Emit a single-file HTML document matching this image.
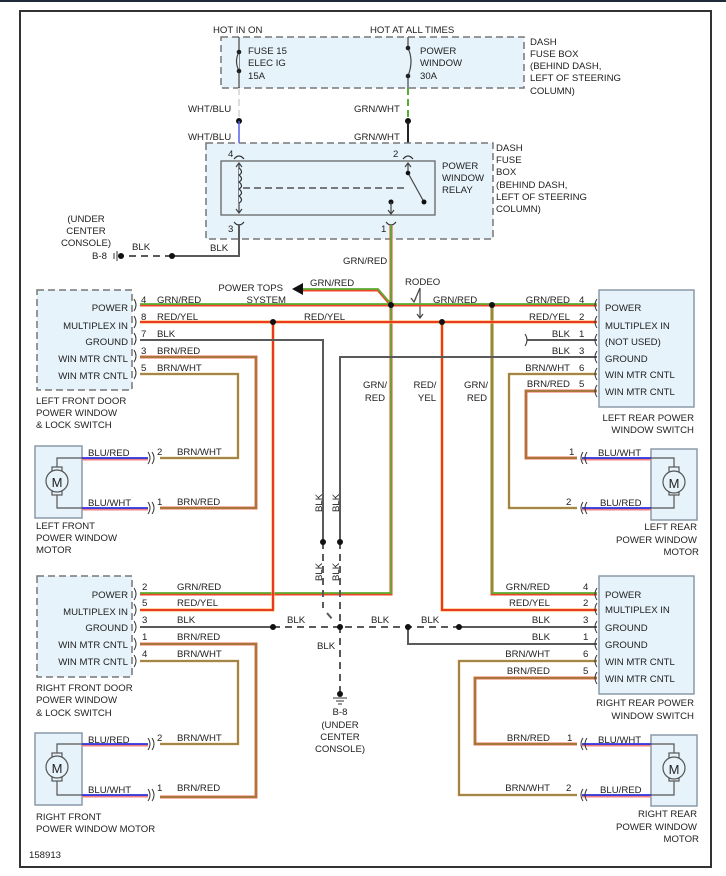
<!DOCTYPE html>
<html><head><meta charset="utf-8"><style>
body{margin:0;background:#fff}
svg{display:block}
text{font-family:"Liberation Sans",sans-serif;font-size:9.6px;fill:#222}
.g{stroke:#5aad32;stroke-width:1.8;fill:none}
.r{stroke:#f0442a;stroke-width:3;fill:none}
.ry{stroke:#f7b04a;stroke-width:3;fill:none}
.rr{stroke:#ec2a1e;stroke-width:1.8;fill:none}
.k{stroke:#5a5a5a;stroke-width:2;fill:none}
.kd{stroke:#5a5a5a;stroke-width:2;fill:none;stroke-dasharray:7,5}
.bw{stroke:#9a7a3a;stroke-width:1.8;fill:none}
.bwl{stroke:#e8d9b0;stroke-width:3;fill:none}
.br{stroke:#f06a50;stroke-width:3;fill:none}
.bl{stroke:#2a33e0;stroke-width:1.8;fill:none}
.blr{stroke:#f08080;stroke-width:3;fill:none}
.thin{stroke:#444;stroke-width:1.2;fill:none}
.box{fill:#e6f3fb;stroke:#777;stroke-width:1.5;stroke-dasharray:7,4}
.sbox{fill:#e6f3fb;stroke:#8a9aa8;stroke-width:1.5}
.e{text-anchor:end}.m{text-anchor:middle}
</style></head><body>
<svg width="726" height="876" viewBox="0 0 726 876" xmlns="http://www.w3.org/2000/svg">
<rect x="0" y="0" width="726" height="2" fill="#1e2a3a"/>
<rect x="20" y="11" width="691" height="856" fill="#fff" stroke="#333" stroke-width="2"/>

<!-- fuse box -->
<rect class="box" x="221" y="37" width="303" height="51"/>
<text x="213" y="33">HOT IN ON</text><text x="370" y="33">HOT AT ALL TIMES</text>
<line class="thin" x1="239" y1="37" x2="239" y2="88"/>
<path d="M239 52 q-5 9 0 19" stroke="#444" fill="#e6f3fb" stroke-width="1.2"/>
<circle cx="239" cy="52" r="2.3" fill="#222"/><circle cx="239" cy="71" r="2.3" fill="#222"/>
<line class="thin" x1="408" y1="37" x2="408" y2="88"/>
<path d="M408 48 q6 13 0 28" stroke="#444" fill="#e6f3fb" stroke-width="1.2"/>
<rect x="405" y="50" width="3" height="24" fill="#e6f3fb"/>
<circle cx="408" cy="48" r="2.3" fill="#222"/><circle cx="408" cy="76" r="2.3" fill="#222"/>
<text x="248" y="54">FUSE 15</text><text x="248" y="66">ELEC IG</text><text x="248" y="79">15A</text>
<text x="420" y="54">POWER</text><text x="420" y="66">WINDOW</text><text x="420" y="79">30A</text>
<text x="530" y="45">DASH</text><text x="530" y="57">FUSE BOX</text><text x="530" y="69">(BEHIND DASH,</text><text x="530" y="81">LEFT OF STEERING</text><text x="530" y="94">COLUMN)</text>

<line x1="239" y1="88" x2="239" y2="121" stroke="#ddd" stroke-width="2" stroke-dasharray="7,4"/>
<line x1="408" y1="88" x2="408" y2="121" stroke="#5aad32" stroke-width="2" stroke-dasharray="7,4"/>
<circle cx="239" cy="121" r="3" fill="#111"/><circle cx="408" cy="121" r="3" fill="#111"/>
<text x="188" y="112">WHT/BLU</text><text x="354" y="112">GRN/WHT</text>
<text x="188" y="140">WHT/BLU</text><text x="354" y="140">GRN/WHT</text>
<line x1="239" y1="121" x2="239" y2="155" stroke="#5560e8" stroke-width="1.5"/>
<line x1="408" y1="121" x2="408" y2="155" stroke="#222" stroke-width="2"/>

<!-- relay -->
<rect class="box" x="206" y="143" width="287" height="96"/>
<rect x="221" y="161" width="214" height="54" fill="#e6f3fb" stroke="#666" stroke-width="1.3"/>
<path d="M234 159 q5 -6 10 0 M403 159 q5 -6 10 0 M234 222 q5 6 10 0 M386 222 q5 6 10 0" stroke="#333" fill="none" stroke-width="1.2"/>
<path d="M239 163 v50 M236 167 l3 -4 3 4 M236 209 l3 4 3 -4" class="thin"/>
<path d="M239 168 q5 4 0 7 q5 4 0 7 q5 4 0 7 q5 4 0 7 q5 4 0 7" stroke="#333" fill="#e6f3fb" stroke-width="1.2"/>
<line x1="243" y1="188" x2="408" y2="188" stroke="#333" stroke-width="1.3" stroke-dasharray="7,4"/>
<path d="M408 163 v10 M405 167 l3 -4 3 4 M408 173 L424 202" class="thin"/>
<circle cx="408" cy="173" r="2.3" fill="#111"/><circle cx="424" cy="202" r="2.5" fill="#111"/>
<circle cx="391" cy="202" r="2.5" fill="#111"/>
<path d="M391 202 v12 M388 210 l3 4 3 -4" class="thin"/>
<text x="228" y="157" fill="#553">4</text><text x="393" y="157">2</text>
<text x="228" y="232">3</text><text x="381" y="232">1</text>
<text x="442" y="169">POWER</text><text x="442" y="181">WINDOW</text><text x="442" y="193">RELAY</text>
<text x="496" y="151">DASH</text><text x="496" y="163">FUSE</text><text x="496" y="175">BOX</text><text x="496" y="188">(BEHIND DASH,</text><text x="496" y="200">LEFT OF STEERING</text><text x="496" y="212">COLUMN)</text>

<!-- relay ground -->
<path class="k" d="M239 224 V256 H172"/>
<line class="kd" x1="172" y1="256" x2="122" y2="256"/>
<circle cx="172" cy="256" r="3" fill="#111"/><circle cx="121" cy="256" r="3" fill="#111"/>
<path d="M117 251 v10 M114 253 v6" stroke="#333" stroke-width="1"/>
<text x="86" y="222" class="m">(UNDER</text><text x="86" y="234" class="m">CENTER</text><text x="86" y="246" class="m">CONSOLE)</text>
<text x="92" y="259">B-8</text><text x="132" y="250">BLK</text><text x="210" y="251">BLK</text>
<text x="343" y="264">GRN/RED</text>

<!-- power tops -->
<path class="r" d="M303 290 H378 L391 305"/><path class="g" d="M303 289 H378 L390 303"/>
<path d="M292 289 l11 -6 v12 z" fill="#111"/>
<text x="283" y="291" class="e">POWER TOPS</text><text x="286" y="303" class="e">SYSTEM</text>
<text x="310" y="286">GRN/RED</text>
<text x="405" y="285">RODEO</text>
<path d="M420 288 L414 302 M411 298 l3 4 2 -4 M420 288 V318 M417 314 l3 4 3 -4" class="thin"/>

<!-- main green/red power -->
<path class="r" d="M140 305 H597"/><path class="g" d="M140 304 H597"/>
<path class="r" d="M391 225 V594 H140"/><path class="g" d="M391 225 V593 H140"/>
<path class="r" d="M492 305 V594 H597"/><path class="g" d="M492 305 V593 H597"/>
<circle cx="391" cy="305" r="3" fill="#111"/><circle cx="492" cy="305" r="3" fill="#111"/>
<!-- red/yel -->
<path class="ry" d="M140 322 H597"/><path class="rr" d="M140 322 H597"/>
<path class="ry" d="M273 322 V610 H140"/><path class="rr" d="M273 322 V610 H140"/>
<path class="ry" d="M442 322 V610 H597"/><path class="rr" d="M442 322 V610 H597"/>
<circle cx="273" cy="322" r="3" fill="#111"/><circle cx="442" cy="322" r="3" fill="#111"/>
<!-- blk -->
<path class="k" d="M140 340 H323 V542"/>
<path class="k" d="M597 357 H340 V542"/>
<path class="k" d="M527 340 H597"/>
<path class="kd" d="M323 542 V608 M327 613 L333 620"/>
<path class="kd" d="M340 542 V694"/>
<circle cx="323" cy="542" r="3" fill="#111"/><circle cx="340" cy="542" r="3" fill="#111"/>
<path class="k" d="M140 627 H273 M459 627 H597"/>
<path class="kd" d="M273 627 H459"/>
<path class="k" d="M408 627 V644 H597"/>
<circle cx="273" cy="627" r="3" fill="#111"/><circle cx="340" cy="627" r="3" fill="#111"/><circle cx="408" cy="627" r="3" fill="#111"/><circle cx="459" cy="627" r="3" fill="#111"/>
<circle cx="340" cy="694" r="3" fill="#111"/>
<path d="M333 698 h14 M336 701 h8 M338 704 h4" stroke="#333" stroke-width="1"/>

<!-- LF brown -->
<path class="br" d="M140 357 H256 V508 H160"/><path class="bw" d="M140 357 H256 V508 H160"/>
<path class="bwl" d="M140 374 H238 V458 H160"/><path class="bw" d="M140 374 H238 V458 H160"/>
<!-- LR brown -->
<path class="bwl" d="M597 374 H509 V508 H577"/><path class="bw" d="M597 374 H509 V508 H577"/>
<path class="br" d="M597 391 H526 V458 H577"/><path class="bw" d="M597 391 H526 V458 H577"/>
<!-- RF brown -->
<path class="br" d="M140 644 H256 V797 H160"/><path class="bw" d="M140 644 H256 V797 H160"/>
<path class="bwl" d="M140 661 H238 V744 H160"/><path class="bw" d="M140 661 H238 V744 H160"/>
<!-- RR brown -->
<path class="bwl" d="M597 661 H459 V795 H577"/><path class="bw" d="M597 661 H459 V795 H577"/>
<path class="br" d="M597 678 H475 V744 H577"/><path class="bw" d="M597 678 H475 V744 H577"/>

<!-- switch boxes -->
<rect class="box" x="37" y="290" width="95" height="100"/>
<rect class="box" x="37" y="576" width="95" height="101"/>
<rect class="sbox" x="599" y="290" width="95" height="117"/>
<rect class="sbox" x="599" y="576" width="95" height="118"/>
<g stroke="#333" stroke-width="1" fill="none">
<path d="M134 299 q4 6 0 12 M134 316 q4 6 0 12 M134 333 q4 6 0 12 M134 350 q4 6 0 12 M134 367 q4 6 0 12"/>
<path d="M134 588 q4 6 0 12 M134 604 q4 6 0 12 M134 621 q4 6 0 12 M134 638 q4 6 0 12 M134 655 q4 6 0 12"/>
<path d="M597 299 q-4 6 0 12 M597 316 q-4 6 0 12 M597 334 q-4 6 0 12 M597 351 q-4 6 0 12 M597 368 q-4 6 0 12 M597 385 q-4 6 0 12"/>
<path d="M597 588 q-4 6 0 12 M597 603 q-4 6 0 12 M597 621 q-4 6 0 12 M597 638 q-4 6 0 12 M597 655 q-4 6 0 12 M597 672 q-4 6 0 12"/>
<path d="M525 334 q4 6 0 12"/>
</g>
<text x="128" y="311" class="e">POWER</text><text x="128" y="329" class="e">MULTIPLEX IN</text><text x="128" y="345" class="e">GROUND</text><text x="128" y="362" class="e">WIN MTR CNTL</text><text x="128" y="379" class="e">WIN MTR CNTL</text>
<text x="36" y="404">LEFT FRONT DOOR</text><text x="36" y="416">POWER WINDOW</text><text x="36" y="428">&amp; LOCK SWITCH</text>
<text x="128" y="598" class="e">POWER</text><text x="128" y="615" class="e">MULTIPLEX IN</text><text x="128" y="631" class="e">GROUND</text><text x="128" y="648" class="e">WIN MTR CNTL</text><text x="128" y="665" class="e">WIN MTR CNTL</text>
<text x="36" y="691">RIGHT FRONT DOOR</text><text x="36" y="703">POWER WINDOW</text><text x="36" y="716">&amp; LOCK SWITCH</text>
<text x="605" y="311">POWER</text><text x="605" y="329">MULTIPLEX IN</text><text x="605" y="345">(NOT USED)</text><text x="605" y="362">GROUND</text><text x="605" y="378">WIN MTR CNTL</text><text x="605" y="395">WIN MTR CNTL</text>
<text x="694" y="421" class="e">LEFT REAR POWER</text><text x="694" y="433" class="e">WINDOW SWITCH</text>
<text x="605" y="598">POWER</text><text x="605" y="613">MULTIPLEX IN</text><text x="605" y="631">GROUND</text><text x="605" y="648">GROUND</text><text x="605" y="665">WIN MTR CNTL</text><text x="605" y="682">WIN MTR CNTL</text>
<text x="694" y="706" class="e">RIGHT REAR POWER</text><text x="694" y="719" class="e">WINDOW SWITCH</text>

<!-- wire labels -->
<g>
<text x="141" y="303">4</text><text x="157" y="303">GRN/RED</text>
<text x="141" y="320">8</text><text x="157" y="320">RED/YEL</text>
<text x="141" y="337">7</text><text x="157" y="337">BLK</text>
<text x="141" y="354">3</text><text x="157" y="354">BRN/RED</text>
<text x="141" y="371">5</text><text x="157" y="371">BRN/WHT</text>
<text x="304" y="320">RED/YEL</text><text x="433" y="303">GRN/RED</text>
<text x="570" y="303" class="e">GRN/RED</text><text x="579" y="303">4</text>
<text x="570" y="320" class="e">RED/YEL</text><text x="579" y="320">2</text>
<text x="570" y="337" class="e">BLK</text><text x="579" y="337">1</text>
<text x="570" y="354" class="e">BLK</text><text x="579" y="354">3</text>
<text x="570" y="371" class="e">BRN/WHT</text><text x="579" y="371">6</text>
<text x="570" y="387" class="e">BRN/RED</text><text x="579" y="387">5</text>
<text x="375" y="388" class="m">GRN/</text><text x="375" y="401" class="m">RED</text>
<text x="425" y="388" class="m">RED/</text><text x="427" y="401" class="m">YEL</text>
<text x="476" y="388" class="m">GRN/</text><text x="477" y="401" class="m">RED</text>
<text x="142" y="590">2</text><text x="177" y="590">GRN/RED</text>
<text x="142" y="606">5</text><text x="177" y="606">RED/YEL</text>
<text x="142" y="623">3</text><text x="177" y="623">BLK</text>
<text x="142" y="640">1</text><text x="177" y="640">BRN/RED</text>
<text x="142" y="657">4</text><text x="177" y="657">BRN/WHT</text>
<text x="287" y="623">BLK</text><text x="371" y="623">BLK</text><text x="421" y="623">BLK</text><text x="317" y="649">BLK</text>
<text x="550" y="590" class="e">GRN/RED</text><text x="583" y="590">4</text>
<text x="550" y="606" class="e">RED/YEL</text><text x="583" y="606">2</text>
<text x="550" y="623" class="e">BLK</text><text x="583" y="623">3</text>
<text x="550" y="640" class="e">BLK</text><text x="583" y="640">1</text>
<text x="550" y="657" class="e">BRN/WHT</text><text x="583" y="657">6</text>
<text x="550" y="674" class="e">BRN/RED</text><text x="583" y="674">5</text>
<text x="340" y="715" class="m">B-8</text><text x="340" y="728" class="m">(UNDER</text><text x="340" y="740" class="m">CENTER</text><text x="340" y="752" class="m">CONSOLE)</text>
<text transform="translate(322,512) rotate(-90)">BLK</text><text transform="translate(339,512) rotate(-90)">BLK</text>
<text transform="translate(322,581) rotate(-90)">BLK</text><text transform="translate(339,581) rotate(-90)">BLK</text>
<text x="29" y="858">158913</text>
</g>

<!-- motors -->
<rect class="sbox" x="35" y="446" width="47" height="72"/>
<rect class="sbox" x="35" y="733" width="47" height="72"/>
<rect class="sbox" x="651" y="449" width="46" height="71"/>
<rect class="sbox" x="651" y="735" width="46" height="71"/>
<g stroke="#555" stroke-width="1.2" fill="#e6f3fb">
<path d="M82 458 H57 V470 M57 493 V508 H82" fill="none"/>
<rect x="52" y="467" width="10" height="5"/><rect x="52" y="490" width="10" height="5"/><circle cx="57" cy="481" r="11"/>
<path d="M82 744 H57 V756 M57 779 V795 H82" fill="none"/>
<rect x="52" y="753" width="10" height="5"/><rect x="52" y="776" width="10" height="5"/><circle cx="57" cy="767" r="11"/>
<path d="M651 458 H674 V470 M674 493 V508 H651" fill="none"/>
<rect x="669" y="467" width="10" height="5"/><rect x="669" y="490" width="10" height="5"/><circle cx="674" cy="482" r="11"/>
<path d="M651 744 H674 V756 M674 779 V795 H651" fill="none"/>
<rect x="669" y="753" width="10" height="5"/><rect x="669" y="776" width="10" height="5"/><circle cx="674" cy="768" r="11"/>
</g>
<text x="57" y="487" class="m" style="font-size:13px">M</text><text x="57" y="773" class="m" style="font-size:13px">M</text>
<text x="674" y="488" class="m" style="font-size:13px">M</text><text x="674" y="774" class="m" style="font-size:13px">M</text>
<path class="blr" d="M82 459 H148 M82 509 H148 M82 745 H148 M82 796 H148 M582 459 H651 M582 509 H651 M582 745 H651 M582 796 H651"/>
<path class="bl" d="M82 458 H148 M82 508 H148 M82 744 H148 M82 795 H148 M582 458 H651 M582 508 H651 M582 744 H651 M582 795 H651"/>
<g stroke="#333" stroke-width="1" fill="none">
<path d="M148 452 q4 6 0 12 M152 452 q4 6 0 12 M148 502 q4 6 0 12 M152 502 q4 6 0 12 M148 738 q4 6 0 12 M152 738 q4 6 0 12 M148 789 q4 6 0 12 M152 789 q4 6 0 12"/>
<path d="M583 452 q-4 6 0 12 M587 452 q-4 6 0 12 M583 502 q-4 6 0 12 M587 502 q-4 6 0 12 M583 738 q-4 6 0 12 M587 738 q-4 6 0 12 M583 789 q-4 6 0 12 M587 789 q-4 6 0 12"/>
</g>
<text x="88" y="456">BLU/RED</text><text x="157" y="455">2</text><text x="177" y="455">BRN/WHT</text>
<text x="88" y="506">BLU/WHT</text><text x="157" y="505">1</text><text x="177" y="505">BRN/RED</text>
<text x="88" y="743">BLU/RED</text><text x="157" y="741">2</text><text x="177" y="741">BRN/WHT</text>
<text x="88" y="793">BLU/WHT</text><text x="157" y="791">1</text><text x="177" y="791">BRN/RED</text>
<text x="598" y="456">BLU/WHT</text><text x="569" y="455">1</text>
<text x="600" y="506">BLU/RED</text><text x="566" y="505">2</text>
<text x="598" y="743">BLU/WHT</text><text x="567" y="741">1</text><text x="550" y="741" class="e">BRN/RED</text>
<text x="600" y="793">BLU/RED</text><text x="566" y="791">2</text><text x="550" y="791" class="e">BRN/WHT</text>
<text x="36" y="529">LEFT FRONT</text><text x="36" y="541">POWER WINDOW</text><text x="36" y="553">MOTOR</text>
<text x="36" y="820">RIGHT FRONT</text><text x="36" y="832">POWER WINDOW MOTOR</text>
<text x="697" y="530" class="e">LEFT REAR</text><text x="697" y="543" class="e">POWER WINDOW</text><text x="699" y="555" class="e">MOTOR</text>
<text x="697" y="817" class="e">RIGHT REAR</text><text x="697" y="830" class="e">POWER WINDOW</text><text x="699" y="842" class="e">MOTOR</text>
</svg>
</body></html>
